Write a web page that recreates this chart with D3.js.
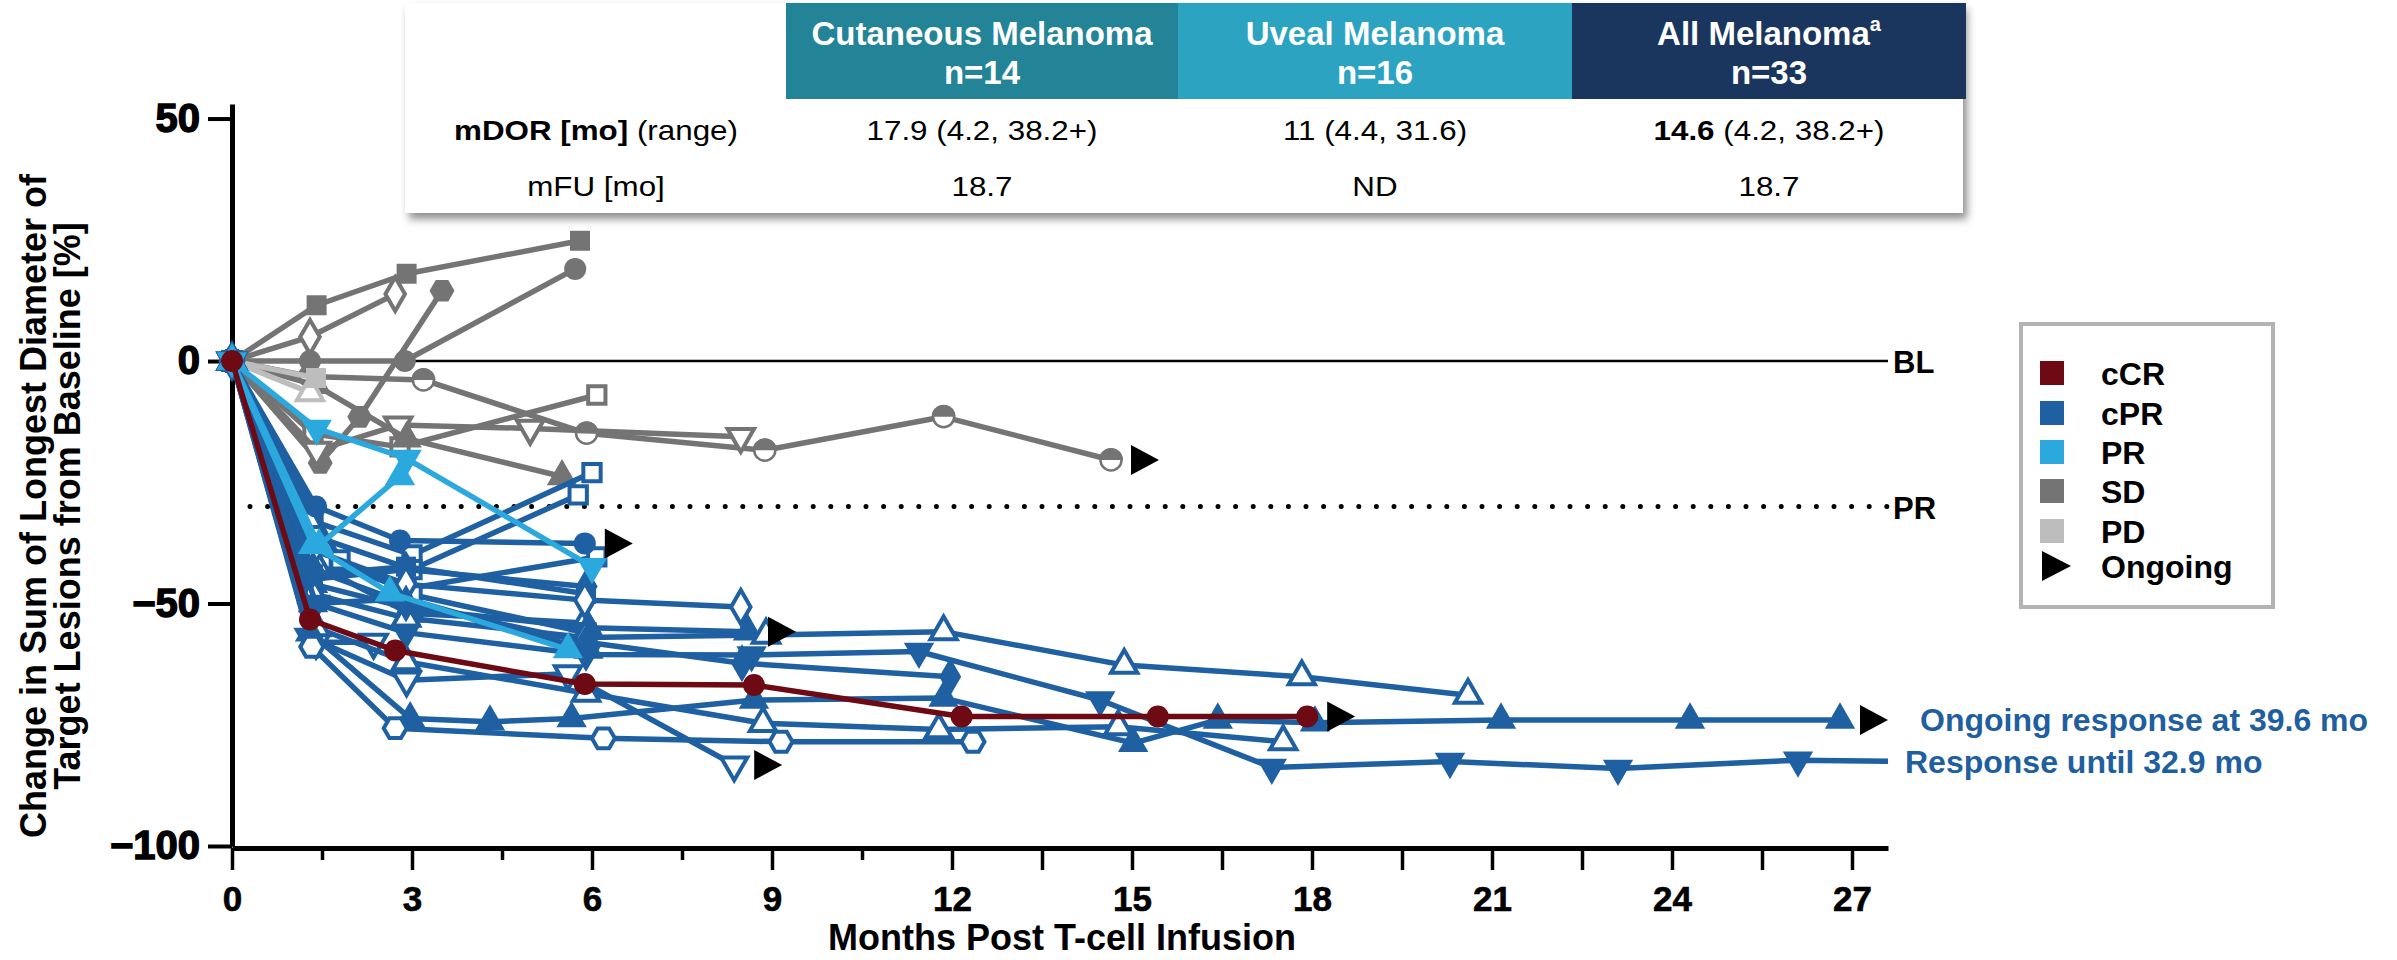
<!DOCTYPE html>
<html><head><meta charset="utf-8">
<script src="https://cdn.jsdelivr.net/npm/d3@7"></script>
<style>
body{margin:0;background:#fff}
svg{display:block}
text{font-family:"Liberation Sans",Arial,sans-serif}
</style>
</head><body>
<svg id="chart" width="2397" height="960"></svg>
<script>
// ---------------- DATA ----------------
const xTicks = [0,3,6,9,12,15,18,21,24,27];
const xMinorTicks = [1.5,4.5,7.5,10.5];
const xMidTicks = [13.5,16.5,19.5,22.5,25.5];
const yTicks = [50,0,-50,-100];
const refLines = [{label:"BL", value:0}, {label:"PR", value:-30}];

const tableHeaders = [["Cutaneous Melanoma","n=14"],["Uveal Melanoma","n=16"],["All Melanoma","n=33"]];
const tableRowLabels = ["mDOR [mo]|(range)", "mFU [mo]"];
const mdorValues = [["","17.9 (4.2, 38.2+)"],["","11 (4.4, 31.6)"],["14.6"," (4.2, 38.2+)"]];
const mfuValues = ["18.7","ND","18.7"];

const legendLabels = ["cCR","cPR","PR","SD","PD","Ongoing"];
const annotations = ["Ongoing response at 39.6 mo","Response until 32.9 mo"];

// each patient: marker shape, [months, % change] points, ongoing flag
const sdPatients = [
  {shape:"squareF", pts:[[0,0],[1.41,11.5],[2.91,18],[5.8,24.8]]},
  {shape:"diamondO", pts:[[0,0],[1.3,5],[2.72,13.8]]},
  {shape:"circleF", pts:[[0,0],[1.3,0],[2.88,0],[5.72,19]]},
  {shape:"hexF", pts:[[0,0],[1.47,-21],[2.13,-11.5],[3.5,14.5]]},
  {shape:"half", pts:[[0,0],[1.3,-3.2],[3.19,-3.9],[5.91,-14.9],[8.88,-18.4],[11.86,-11.5],[14.65,-20.4]], ongoing:true},
  {shape:"squareO", pts:[[0,0],[1.35,-15],[2.8,-17.7],[6.08,-7]]},
  {shape:"invTriO", pts:[[0,0],[1.41,-18.4],[2.77,-13.2],[4.97,-13.9],[8.48,-15.6]]},
  {shape:"triF", pts:[[0,0],[1.4,-5],[2.91,-16],[5.5,-23.8]]}
];
const pdPatients = [
  {shape:"triO", pts:[[0,0],[1.3,-6.5]]},
  {shape:"squareF", pts:[[0,0],[1.4,-3.5]]}
];
const prPatients = [
  {shape:"invTriF", pts:[[0,0],[1.41,-13.9],[2.91,-20.1],[6.0,-42.4]]},
  {shape:"triF", pts:[[0,0],[1.45,-38],[2.8,-23.8]]},
  {shape:"triF", pts:[[0,0],[1.35,-38],[2.63,-47.8],[5.6,-59.5]]}
];
const cprPatients = [
  {shape:"squareO", pts:[[0,0],[1.35,-33],[3.0,-40],[6.0,-23]]},
  {shape:"squareO", pts:[[0,0],[1.35,-36],[3.0,-43],[5.77,-27.6]]},
  {shape:"squareO", pts:[[0,0],[1.5,-41],[2.9,-47],[6.08,-40.4]]},
  {shape:"diamondF", pts:[[0,0],[1.35,-45],[2.9,-43],[5.91,-46.5]]},
  {shape:"triO", pts:[[0,0],[1.4,-42],[2.95,-52],[5.88,-54]]},
  {shape:"triF", pts:[[0,0],[1.35,-50],[2.9,-49],[5.94,-59.6]]},
  {shape:"squareF", pts:[[0,0],[1.35,-44],[2.9,-42.4],[5.9,-48]]},
  {shape:"squareO", pts:[[0,0],[1.8,-41],[3.0,-48.2],[5.9,-56]]},
  {shape:"invTriO", pts:[[0,0],[1.4,-58],[2.36,-58]]},
  {shape:"diamondO", pts:[[0,0],[1.35,-39],[2.9,-46],[5.88,-49.3],[8.48,-50.7]]},
  {shape:"triF", pts:[[0,0],[1.35,-46],[2.95,-51],[5.94,-55],[8.6,-55.8]], ongoing:true},
  {shape:"triO", pts:[[0,0],[1.35,-48],[2.9,-53],[5.88,-57],[8.9,-56.5],[11.86,-55.8],[14.87,-62.7],[17.83,-65.1],[20.6,-68.9]]},
  {shape:"invTriF", pts:[[0,0],[1.4,-50],[2.9,-56],[5.9,-60.5],[8.66,-60.6],[11.45,-59.9],[14.47,-69.9],[17.33,-83.8],[20.3,-82.6],[23.1,-84],[26.1,-82.3],[27.6,-82.5]]},
  {shape:"diamondF", pts:[[0,0],[1.35,-43],[2.9,-50],[5.91,-58],[8.5,-62.3],[11.97,-65.1]]},
  {shape:"invTriO", pts:[[0,0],[1.3,-57],[2.91,-65.8],[5.6,-64.5],[8.37,-83.3]], ongoing:true},
  {shape:"triO", pts:[[0,0],[1.4,-55],[2.9,-62],[5.9,-68.5],[8.85,-74.7],[11.78,-76],[14.77,-75.4],[17.52,-78.5]]},
  {shape:"triF", pts:[[0,0],[1.3,-56],[2.97,-73.7],[4.3,-74.4],[5.66,-73.7],[8.7,-69.9],[11.86,-69.5],[15.02,-78.8],[16.43,-74],[18.05,-74.6],[21.15,-74],[24.3,-74],[26.8,-74]], ongoing:true},
  {shape:"hexO", pts:[[0,0],[1.33,-58.9],[2.72,-75.7],[6.19,-77.8],[9.15,-78.5],[12.35,-78.5]]},
  {shape:"circleF", pts:[[0,0],[1.4,-30],[2.8,-37],[5.88,-37.6]], ongoing:true}
];
const ccrPatients = [
  {shape:"circleF", pts:[[0,0],[1.3,-53.3],[2.72,-59.7],[5.88,-66.6],[8.7,-66.8],[12.16,-73.3],[15.43,-73.3],[17.92,-73.3]], ongoing:true}
];

// ---------------- STYLE ----------------
const COL = {cCR:"#6d0a14", cPR:"#1e60a2", PR:"#2ba8de", SD:"#747474", PD:"#bdbdbd"};
const legendColors = [COL.cCR, COL.cPR, COL.PR, COL.SD, COL.PD, "#000"];
const headerColors = ["#238397","#2ca4c1","#1a365e"];
const FONT = '"Liberation Sans",Arial,sans-serif';

const svg = d3.select("#chart");
const x = d3.scaleLinear().domain([0,27.6]).range([232,1888]);
const y = d3.scaleLinear().domain([-100,53]).range([846,104]);

// defs: shadow
const defs = svg.append("defs");
const f = defs.append("filter").attr("id","shadow").attr("x","-5%").attr("y","-20%").attr("width","110%").attr("height","150%");
f.append("feDropShadow").attr("dx",4).attr("dy",6).attr("stdDeviation",4).attr("flood-color","#000").attr("flood-opacity",0.45);

// ---------------- AXES ----------------
const yAxis = svg.append("g").attr("transform","translate(232,0)")
  .call(d3.axisLeft(y).tickValues(yTicks).tickSize(24).tickSizeOuter(0).tickPadding(8).tickFormat(d3.format("d")));
yAxis.select(".domain").attr("stroke-width",5);
yAxis.selectAll(".tick line").attr("stroke-width",4);
yAxis.selectAll("text").attr("font-size",40).attr("font-weight","bold").attr("font-family",FONT)
  .attr("fill","#000").attr("stroke","#000").attr("stroke-width",1.4);

const xBase = y(-100)+2;
const xAxis = svg.append("g").attr("transform",`translate(0,${xBase})`)
  .call(d3.axisBottom(x).tickValues(xTicks).tickSize(22).tickSizeOuter(0).tickPadding(16));
xAxis.select(".domain").attr("stroke-width",5);
xAxis.selectAll(".tick line").attr("stroke-width",3.5);
xAxis.selectAll("text").attr("font-size",35).attr("font-weight","bold").attr("font-family",FONT)
  .attr("fill","#000").attr("stroke","#000").attr("stroke-width",0.6);

const xMinor = svg.append("g").attr("transform",`translate(0,${xBase})`)
  .call(d3.axisBottom(x).tickValues(xMinorTicks).tickSize(12).tickSizeOuter(0).tickFormat(""));
xMinor.select(".domain").remove();
xMinor.selectAll(".tick line").attr("stroke-width",3.5);
const xMid = svg.append("g").attr("transform",`translate(0,${xBase})`)
  .call(d3.axisBottom(x).tickValues(xMidTicks).tickSize(22).tickSizeOuter(0).tickFormat(""));
xMid.select(".domain").remove();
xMid.selectAll(".tick line").attr("stroke-width",3.5);

// axis titles
svg.append("text").attr("transform","translate(46,506) rotate(-90)").attr("text-anchor","middle")
  .attr("font-size",36).attr("font-weight","bold").text("Change in Sum of Longest Diameter of");
svg.append("text").attr("transform","translate(80,506) rotate(-90)").attr("text-anchor","middle")
  .attr("font-size",36).attr("font-weight","bold").text("Target Lesions from Baseline [%]");
svg.append("text").attr("x",1062).attr("y",950).attr("text-anchor","middle")
  .attr("font-size",36).attr("font-weight","bold").text("Months Post T-cell Infusion");

// reference lines
svg.append("line").attr("x1",x(0)).attr("x2",x(27.6)).attr("y1",y(0)).attr("y2",y(0))
  .attr("stroke","#000").attr("stroke-width",2.5);
svg.append("line").attr("x1",250).attr("x2",x(27.6)).attr("y1",y(-30)).attr("y2",y(-30))
  .attr("stroke","#000").attr("stroke-width",5).attr("stroke-linecap","round").attr("stroke-dasharray","0 17.6");
svg.selectAll(".reflab").data(refLines).join("text").attr("class","reflab")
  .attr("x",1893).attr("y",d=>y(d.value)+12).attr("font-size",31).attr("font-weight","bold").text(d=>d.label);

// ---------------- MARKERS ----------------
function hexPath(r){
  const p=[];for(let i=0;i<6;i++){const a=Math.PI/3*i;p.push([r*Math.cos(a),r*Math.sin(a)]);}
  return "M"+p.map(q=>q.join(",")).join("L")+"Z";
}
function drawMarker(g, shape, color, cx, cy){
  const open = shape.endsWith("O");
  const base = shape.replace(/[FO]$/,"");
  const fill = open ? "#fff" : color;
  const sw = open ? 4 : 0;
  let d, rot = 0;
  if (shape==="half"){
    g.append("circle").attr("cx",cx).attr("cy",cy).attr("r",10.5).attr("fill","#fff").attr("stroke",color).attr("stroke-width",2.5);
    g.append("path").attr("d","M-12,0A12,12 0 0 1 12,0Z").attr("transform",`translate(${cx},${cy})`).attr("fill",color);
    return;
  }
  if (base==="square") d = d3.symbol(d3.symbolSquare, open?300:400)();
  else if (base==="circle") d = d3.symbol(d3.symbolCircle, open?300:380)();
  else if (base==="diamond") d = d3.symbol(d3.symbolDiamond, open?330:420)();
  else if (base==="tri") d = d3.symbol(d3.symbolTriangle, open?300:400)();
  else if (base==="invTri"){ d = d3.symbol(d3.symbolTriangle, open?300:400)(); rot=180; }
  else if (base==="hex") d = hexPath(open?11.5:12.5);
  g.append("path").attr("d",d).attr("transform",`translate(${cx},${cy}) rotate(${rot})`)
    .attr("fill",fill).attr("stroke",open?color:"none").attr("stroke-width",sw).attr("stroke-linejoin","miter");
}

const line = d3.line().x(d=>x(d[0])).y(d=>y(d[1]));
const plot = svg.append("g");
const arrows = [];
function drawGroup(patients, color){
  patients.forEach(p=>{
    const g = plot.append("g");
    g.append("path").datum(p.pts).attr("d",line).attr("fill","none").attr("stroke",color)
      .attr("stroke-width",5.5).attr("stroke-linejoin","round");
    p.pts.filter(q=>q[0]<=27.1).forEach(q=>drawMarker(g,p.shape,color,x(q[0]),y(q[1])));
    if (p.ongoing){ const last=p.pts[p.pts.length-1]; arrows.push([x(last[0]),y(last[1])]); }
  });
}
drawGroup(sdPatients, COL.SD);
drawGroup(pdPatients, COL.PD);
drawGroup(cprPatients, COL.cPR);
drawGroup(prPatients, COL.PR);
drawGroup(ccrPatients, COL.cCR);
plot.selectAll(".arrow").data(arrows).join("path").attr("class","arrow")
  .attr("d",d=>`M${d[0]+20},${d[1]-15}L${d[0]+48},${d[1]}L${d[0]+20},${d[1]+15}Z`).attr("fill","#000");

// annotations
svg.append("text").attr("x",1920).attr("y",731).attr("font-size",32).attr("font-weight","bold").attr("fill","#1f5fa0").text(annotations[0]);
svg.append("text").attr("x",1905).attr("y",773).attr("font-size",32).attr("font-weight","bold").attr("fill","#1f5fa0").text(annotations[1]);

// ---------------- TABLE ----------------
const tbl = svg.append("g");
tbl.append("rect").attr("x",405).attr("y",3).attr("width",1558).attr("height",210).attr("fill","#fff").attr("filter","url(#shadow)");
const colX = [786,1178,1572,1966];
tableHeaders.forEach((h,i)=>{
  const cx = (colX[i]+colX[i+1])/2;
  tbl.append("rect").attr("x",colX[i]).attr("y",3).attr("width",colX[i+1]-colX[i]).attr("height",96).attr("fill",headerColors[i]);
  const t1 = tbl.append("text").attr("x",cx).attr("y",45).attr("text-anchor","middle").attr("fill","#fff")
    .attr("font-size",33).attr("font-weight","bold").text(h[0]);
  if (i===2) t1.append("tspan").attr("font-size",20).attr("dy",-14).text("a");
  tbl.append("text").attr("x",cx).attr("y",84).attr("text-anchor","middle").attr("fill","#fff")
    .attr("font-size",33).attr("font-weight","bold").text(h[1]);
});
// row labels
const rl1 = tbl.append("text").attr("transform","translate(596,140) scale(1.12,1)").attr("text-anchor","middle").attr("font-size",28);
rl1.append("tspan").attr("font-weight","bold").text(tableRowLabels[0].split("|")[0]);
rl1.append("tspan").text(" "+tableRowLabels[0].split("|")[1]);
tbl.append("text").attr("transform","translate(596,196) scale(1.12,1)").attr("text-anchor","middle").attr("font-size",28).text(tableRowLabels[1]);
mdorValues.forEach((v,i)=>{
  const cx = (colX[i]+colX[i+1])/2;
  const t = tbl.append("text").attr("transform",`translate(${cx},140) scale(1.12,1)`).attr("text-anchor","middle").attr("font-size",28);
  if (v[0]) t.append("tspan").attr("font-weight","bold").text(v[0]);
  t.append("tspan").text(v[1]);
});
mfuValues.forEach((v,i)=>{
  const cx = (colX[i]+colX[i+1])/2;
  tbl.append("text").attr("transform",`translate(${cx},196) scale(1.12,1)`).attr("text-anchor","middle").attr("font-size",28).text(v);
});

// ---------------- LEGEND ----------------
const lg = svg.append("g");
lg.append("rect").attr("x",2021).attr("y",324).attr("width",252).attr("height",283).attr("fill","#fff").attr("stroke","#b3b3b3").attr("stroke-width",4);
const legY = [373,413,452,491,531,566];
legendLabels.forEach((lab,i)=>{
  if (i<5) lg.append("rect").attr("x",2040).attr("y",legY[i]-12).attr("width",24).attr("height",24).attr("fill",legendColors[i]);
  else lg.append("path").attr("d",`M2042,${legY[i]-15}L2071,${legY[i]}L2042,${legY[i]+15}Z`).attr("fill","#000");
  lg.append("text").attr("x",2101).attr("y",legY[i]+12).attr("font-size",32).attr("font-weight","bold").text(lab);
});
</script>
</body></html>
